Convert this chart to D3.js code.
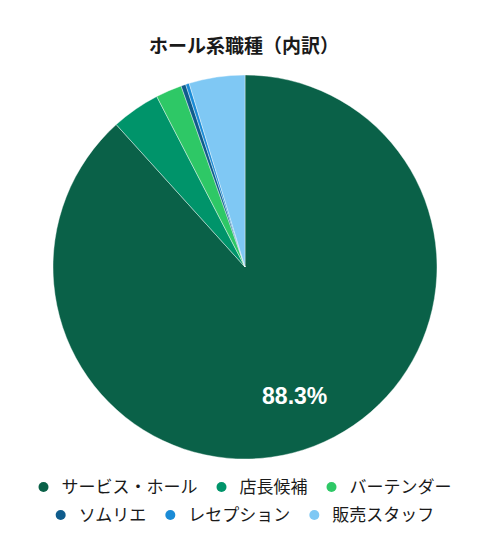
<!DOCTYPE html>
<html>
<head>
<meta charset="utf-8">
<style>
  body { margin: 0; background: #fff; }
  svg { font-family: "Liberation Sans", Arial, "Noto Sans CJK JP", sans-serif; }
</style>
</head>
<body>
<svg width="491" height="552"></svg>
<script src="https://d3js.org/d3.v7.min.js"></script>
<script>
// chart data
let categories = ["サービス・ホール", "店長候補", "バーテンダー", "ソムリエ", "レセプション", "販売スタッフ"];
let values = [88.3, 4.1, 2.2, 0.4, 0.3, 4.7];
let colors = ["#0a6148", "#00946a", "#2ec866", "#0f5c8c", "#1a8bd6", "#7fc8f4"];

let svg = d3.select("svg");
let cx = 245, cy = 267, r = 192;

svg.append("text")
    .attr("x", 244).attr("y", 53)
    .attr("text-anchor", "middle")
    .attr("font-size", 19).attr("font-weight", "bold")
    .attr("fill", "#1a1a1a")
    .text("ホール系職種（内訳）");

let data = categories.map((c, i) => ({ name: c, value: values[i], color: colors[i] }));
let pie = d3.pie().value(d => d.value).sort(null);
let arc = d3.arc().innerRadius(0).outerRadius(r);
let arcs = pie(data);

let g = svg.append("g").attr("transform", `translate(${cx},${cy})`);
g.selectAll("path")
    .data(arcs)
    .join("path")
    .attr("d", arc)
    .attr("fill", d => d.data.color)
    .attr("stroke", "#fff")
    .attr("stroke-width", 0.4);

// only the big slice gets a label
let labelArc = d3.arc().innerRadius(r * 0.72).outerRadius(r * 0.72);
g.selectAll(".lbl")
    .data(arcs.filter(d => d.data.value > 10))
    .join("text")
    .attr("class", "lbl")
    .attr("transform", d => `translate(${labelArc.centroid(d)})`)
    .attr("text-anchor", "middle")
    .attr("dy", "0.35em")
    .attr("font-size", 23).attr("font-weight", "bold")
    .attr("fill", "#fff")
    .text(d => d.data.value.toFixed(1) + "%");

// legend, two centred rows
let rows = [data.slice(0, 3), data.slice(3)];
let rowY = [487, 515];
rows.forEach((row, ri) => {
    let lg = svg.append("g");
    let x = 0;
    row.forEach((d, i) => {
        let item = lg.append("g").attr("transform", `translate(${x},0)`);
        item.append("circle").attr("cx", 0).attr("cy", 0).attr("r", 5).attr("fill", d.color);
        let t = item.append("text")
            .attr("x", 18).attr("dy", "0.35em")
            .attr("font-size", 17).attr("fill", "#1a1a1a")
            .text(d.name);
        x += 18 + t.node().getComputedTextLength() + 24;
    });
    let w = x - 24 + 5;
    lg.attr("transform", `translate(${245 - w / 2 + 5},${rowY[ri]})`);
});
</script>
</body>
</html>
